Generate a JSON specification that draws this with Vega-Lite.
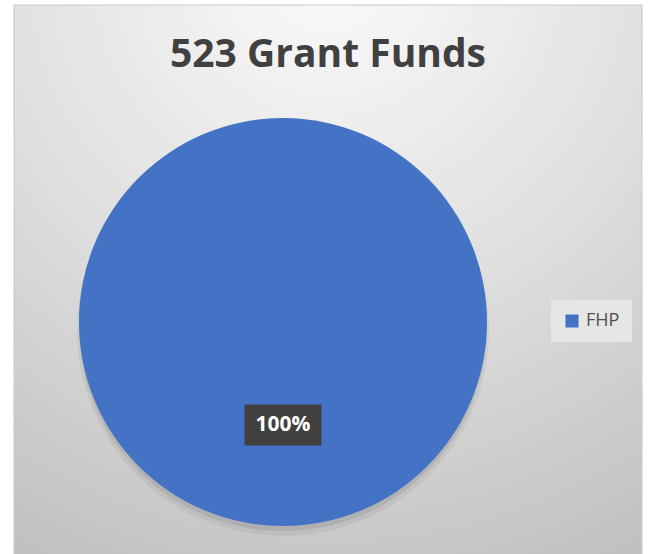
{
  "$schema": "https://vega.github.io/schema/vega-lite/v6.json",
  "width": 628,
  "height": 552,
  "padding": {"left": 13, "top": 4, "right": 9, "bottom": 0},
  "background": "white",
  "title": {
    "text": "523 Grant Funds",
    "offset": -70,
    "font": "Open Sans",
    "fontSize": 39,
    "fontWeight": "bold",
    "color": "#404040",
    "anchor": "middle"
  },
  "config": {"view": {"stroke": null}},
  "data": {"values": [{"category": "FHP", "value": 100, "label": "100%"}]},
  "layer": [
    {
      "mark": {
        "type": "rect",
        "fill": {
          "gradient": "radial",
          "x1": 0.5, "y1": 0.0, "r1": 0,
          "x2": 0.5, "y2": 0.0, "r2": 1.05,
          "stops": [
            {"offset": 0, "color": "#fbfbfb"},
            {"offset": 0.5, "color": "#e0e0e0"},
            {"offset": 1, "color": "#c0c0c0"}
          ]
        },
        "stroke": "#c8c8c8",
        "strokeWidth": 1
      },
      "encoding": {}
    },
    {
      "mark": {"type": "arc", "radius": 206, "fill": "#000000", "opacity": 0.05, "x": {"expr": "width * 0.4283"}, "y": {"expr": "height * 0.5743 + 8"}},
      "encoding": {"theta": {"field": "value", "type": "quantitative", "stack": true}}
    },
    {
      "mark": {"type": "arc", "radius": 204, "fill": "#000000", "opacity": 0.08, "x": {"expr": "width * 0.4283"}, "y": {"expr": "height * 0.5743 + 5"}},
      "encoding": {"theta": {"field": "value", "type": "quantitative", "stack": true}}
    },
    {
      "mark": {"type": "arc", "radius": 204, "x": {"expr": "width * 0.4283"}, "y": {"expr": "height * 0.5743"}},
      "encoding": {
        "theta": {"field": "value", "type": "quantitative", "stack": true},
        "color": {
          "field": "category",
          "type": "nominal",
          "scale": {"range": ["#4472c4"]},
          "legend": {
            "orient": "none",
            "legendX": 537,
            "legendY": 295,
            "fillColor": "#e6e6e6",
            "padding": 12,
            "title": null,
            "symbolType": "square",
            "symbolSize": 169,
            "symbolStrokeWidth": 0,
            "symbolOpacity": 1,
            "labelFont": "Open Sans",
            "labelFontSize": 18,
            "labelColor": "#505050",
            "labelOffset": 5
          }
        }
      }
    },
    {
      "mark": {
        "type": "point",
        "shape": "M-1,-0.532L1,-0.532L1,0.532L-1,0.532Z",
        "size": 5929,
        "filled": true,
        "fill": "#404040",
        "opacity": 1,
        "x": {"expr": "width * 0.4283"},
        "y": {"expr": "height * 0.5743 + 103"}
      },
      "encoding": {}
    },
    {
      "mark": {
        "type": "text",
        "radius": 103,
        "font": "Open Sans",
        "fontSize": 21,
        "fontWeight": "bold",
        "color": "white",
        "baseline": "middle",
        "align": "center",
        "x": {"expr": "width * 0.4283"},
        "y": {"expr": "height * 0.5743"}
      },
      "encoding": {
        "theta": {"field": "value", "type": "quantitative", "stack": true},
        "text": {"field": "label"}
      }
    }
  ]
}
